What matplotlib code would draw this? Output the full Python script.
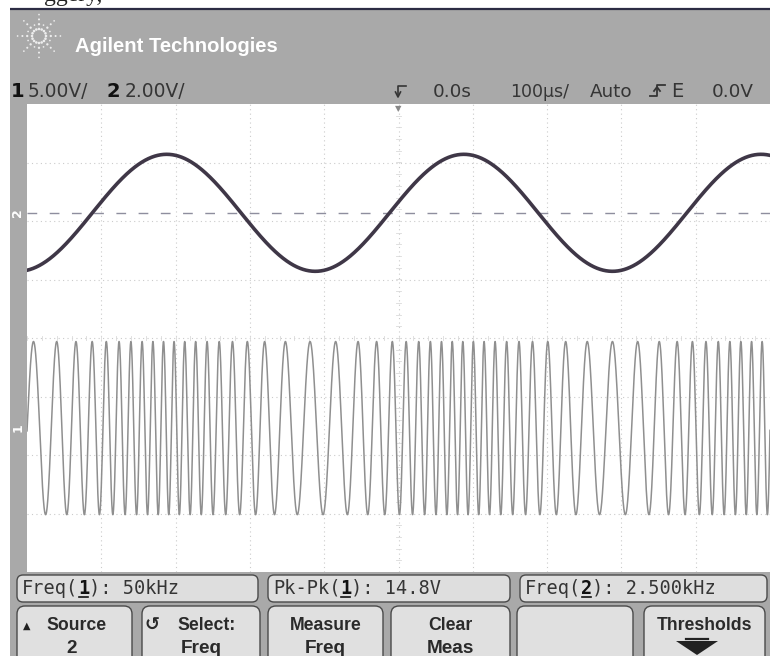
import numpy as np
import matplotlib
matplotlib.use('Agg')
import matplotlib.pyplot as plt
from matplotlib import font_manager
from matplotlib.patches import Rectangle, FancyBboxPatch, Polygon

# readouts on the scope screen
CH_NUMBERS = ['1', '2']
CH_SCALES = ['5.00V/', '2.00V/']
TIME_READOUT = ['0.0s', '100µs/', 'Auto', 'E', '0.0V']
MEAS_NAMES = ['Freq(', 'Pk-Pk(', 'Freq(']
MEAS_CHANNELS = ['1', '1', '2']
MEAS_VALUES = ['): 50kHz', '): 14.8V', '): 2.500kHz']
SOFTKEY_TOP = ['Source', 'Select:', 'Measure', 'Clear', '', 'Thresholds']
SOFTKEY_BOTTOM = ['2', 'Freq', 'Freq', 'Meas', '', '']

# channel 2 (top trace): 2.5 kHz sine
ch2_freq_khz = 2.5
ch2_amp_v = 2.0
ch2_volts_div = 2.0
ch2_pos_div = 2.14
ch2_t0_us = -12.0

# channel 1 (bottom trace): FM carrier, modulated by channel 2
ch1_carrier_khz = 49.5
ch1_dev_khz = 21.0
ch1_amp_v = 7.4
ch1_volts_div = 5.0
ch1_pos_div = -1.54
ch1_phase = -1.6

time_div_us = 100
n_hdiv, n_vdiv = 10, 8

names = {f.name for f in font_manager.fontManager.ttflist}
NARROW = 'Liberation Sans' if 'Liberation Sans' in names else 'DejaVu Sans'
SANS = 'DejaVu Sans'
MONO = 'DejaVu Sans Mono'

FRAME = '#a9a9a9'
TXT = '#353535'

fig = plt.figure(figsize=(7.77, 6.56), dpi=100)
fig.patch.set_facecolor('white')

# pixel-space axes for the bezel, header and softkeys
bg = fig.add_axes([0, 0, 1, 1])
bg.set_xlim(0, 777)
bg.set_ylim(656, 0)
bg.axis('off')

bg.add_patch(Rectangle((10, 9), 760, 650, facecolor=FRAME, edgecolor='none'))
bg.plot([10, 770], [8.5, 8.5], color='#2c2c44', lw=1.6, solid_capstyle='butt')

# cut-off text of the page above the screenshot
bg.text(44, 1, 'ggery,', family='Liberation Serif', fontsize=17, color='#222', va='baseline')

# Agilent spark logo
for k in range(16):
    ang = np.deg2rad(k * 22.5)
    n = 4 if k % 2 == 0 else 2
    r = 7 + 4.8 * np.arange(n)
    bg.scatter(39 + r * np.cos(ang), 36 + r * np.sin(ang), s=np.linspace(3.5, 1.5, n),
               color='white', alpha=0.8, lw=0)
bg.text(75, 52, 'Agilent Technologies', family=NARROW, weight='bold', fontsize=14.6, color='white')

# channel scale readout
bg.text(11, 97, CH_NUMBERS[0], family=SANS, weight='bold', fontsize=14, color='#111')
bg.text(28, 97, CH_SCALES[0], family=SANS, fontsize=13.4, color=TXT)
bg.text(107, 97, CH_NUMBERS[1], family=SANS, weight='bold', fontsize=14, color='#111')
bg.text(125, 97, CH_SCALES[1], family=SANS, fontsize=13.4, color=TXT)

# trigger position marker
bg.plot([398, 398, 406], [96, 86, 86], color=TXT, lw=1.2)
bg.plot([395.5, 398, 400.5], [92, 97, 92], color=TXT, lw=1.2)
bg.text(433, 97, TIME_READOUT[0], family=SANS, fontsize=13.2, color=TXT)
bg.text(510, 97, TIME_READOUT[1], family=SANS, fontsize=12.5, color=TXT)
bg.text(590, 97, TIME_READOUT[2], family=SANS, fontsize=13.2, color=TXT)
# rising-edge trigger symbol
bg.plot([650, 657, 657, 665], [96, 96, 85, 85], color=TXT, lw=1.3)
bg.plot([654, 657, 660], [91, 87, 91], color=TXT, lw=1.3)
bg.text(671, 97, TIME_READOUT[3], family=SANS, fontsize=14, color=TXT)
bg.text(712, 97, TIME_READOUT[4], family=SANS, fontsize=13.2, color=TXT)

# measurement boxes
meas_x = [17, 268, 520]
meas_w = [241, 242, 247]
cw = 13.4 / 0.72 * 0.602
for x, w, name, ch, val in zip(meas_x, meas_w, MEAS_NAMES, MEAS_CHANNELS, MEAS_VALUES):
    bg.add_patch(FancyBboxPatch((x, 575), w, 27, boxstyle='round,pad=0,rounding_size=6',
                                facecolor='#dedede', edgecolor='#4a4a4a', lw=1.0))
    tx = x + 5
    bg.text(tx, 594, name, family=MONO, fontsize=13.4, color=TXT)
    cx = tx + len(name) * cw
    bg.text(cx, 594, ch, family=MONO, weight='bold', fontsize=13.4, color='#111')
    bg.plot([cx + 1, cx + cw - 1], [597, 597], color='#111', lw=1.2)
    bg.text(cx + cw, 594, val, family=MONO, fontsize=13.4, color=TXT)

# softkeys
key_x = [17, 142, 268, 391, 517, 644]
key_w = [115, 118, 115, 119, 116, 121]
key_fs = 12.7
for i, (x, w) in enumerate(zip(key_x, key_w)):
    bg.add_patch(FancyBboxPatch((x, 606), w, 60, boxstyle='round,pad=0,rounding_size=8',
                                facecolor='#e0e0e0', edgecolor='#4a4a4a', lw=1.0))
    cx = x + w / 2
    if i == 0:
        bg.text(27, 629, '▲', family=SANS, fontsize=7, color='#222', ha='center', va='baseline')
        bg.text(cx + 2, 630, SOFTKEY_TOP[i], family=NARROW, weight='bold', fontsize=key_fs,
                color='#2a2a2a', ha='center', va='baseline')
    elif i == 1:
        bg.text(152, 630, '↺', family=SANS, weight='bold', fontsize=13, color='#2a2a2a',
                ha='center', va='baseline')
        bg.text(cx + 6, 630, SOFTKEY_TOP[i], family=NARROW, weight='bold', fontsize=key_fs,
                color='#2a2a2a', ha='center', va='baseline')
    else:
        bg.text(cx, 630, SOFTKEY_TOP[i], family=NARROW, weight='bold', fontsize=key_fs,
                color='#2a2a2a', ha='center', va='baseline')
    bg.text(cx if i else cx - 3, 653, SOFTKEY_BOTTOM[i], family=NARROW, weight='bold',
            fontsize=key_fs + 1, color='#2a2a2a', ha='center', va='baseline')
# "more" arrow on the Thresholds key
bg.add_patch(Polygon([[676, 641], [718, 641], [697, 655]], closed=True, facecolor='#222', edgecolor='none'))
bg.plot([686, 708], [639, 639], color='#222', lw=1.6)

# channel ground markers on the bezel
bg.text(18, 213, '2', family=SANS, weight='bold', fontsize=9, color='white', rotation=90,
        ha='center', va='center')
bg.text(18, 428, '1', family=SANS, weight='bold', fontsize=9, color='white', rotation=90,
        ha='center', va='center')

# the graticule / waveform area
scr = fig.add_axes([27 / 777, 1 - 572 / 656, 743 / 777, 468 / 656])
scr.set_facecolor('white')
half_t = n_hdiv / 2 * time_div_us
scr.set_xlim(-half_t, half_t)
scr.set_ylim(-n_vdiv / 2, n_vdiv / 2)
scr.set_xticks([])
scr.set_yticks([])
for s in scr.spines.values():
    s.set_visible(False)

for k in range(1, n_hdiv):
    xv = -half_t + k * time_div_us
    scr.axvline(xv, color='#cbcbcb', lw=0.8, ls=(0, (1, 3)), zorder=1)
for k in range(1, n_vdiv):
    yv = -n_vdiv / 2 + k
    scr.axhline(yv, color='#cbcbcb', lw=0.8, ls=(0, (1, 3)), zorder=1)
# minor ticks on the centre lines
for k in np.arange(-half_t, half_t, time_div_us / 5):
    scr.plot([k, k], [-0.04, 0.04], color='#dadada', lw=0.6, zorder=1)
for k in np.arange(-n_vdiv / 2, n_vdiv / 2, 0.2):
    scr.plot([-4, 4], [k, k], color='#dadada', lw=0.6, zorder=1)

# trigger level line
scr.axhline(ch2_pos_div, color='#8e8e9e', lw=1.0, ls=(0, (7, 9)), zorder=2)

t = np.linspace(-half_t, half_t, 6001)
theta = 2 * np.pi * ch2_freq_khz * (t - ch2_t0_us) / 1000
v2 = ch2_amp_v * np.sin(theta)
phase = 2 * np.pi * ch1_carrier_khz * t / 1000 - (ch1_dev_khz / ch2_freq_khz) * np.cos(theta) + ch1_phase
v1 = ch1_amp_v * np.cos(phase)

scr.plot(t, v1 / ch1_volts_div + ch1_pos_div, color='#8f8f8f', lw=1.1, zorder=3)
scr.plot(t, v2 / ch2_volts_div + ch2_pos_div, color='#3f3747', lw=2.6, zorder=4)

# trigger marker on the top edge
scr.text(0, n_vdiv / 2, '▼', family=SANS, fontsize=6, color='#888', ha='center', va='top')

fig.savefig('out.png', dpi=100)
